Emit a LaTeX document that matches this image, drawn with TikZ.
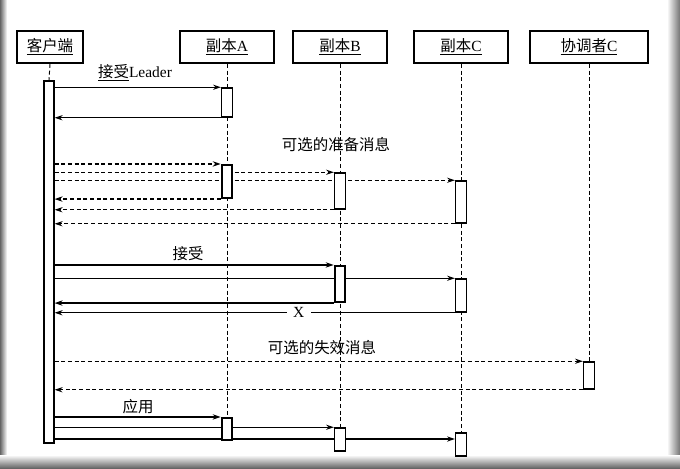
\documentclass[tikz,border=0pt]{standalone}
\usepackage{fontspec}
\setmainfont{Liberation Serif}
\newfontfamily\cjk{Noto Sans CJK SC}
\usetikzlibrary{arrows.meta,backgrounds}
\tikzset{
	head/.style={draw, line width=0.5mm, minimum height=24pt, inner sep=0pt},
	actbox/.style={draw, line width=0.4mm, fill=white, minimum width=8pt, inner sep=0pt},
	lifeline/.style={line width=0.25mm, dash pattern=on 3pt off 2pt},
	msg/.style={line width=0.3mm, -{Stealth[length=6pt, width=4pt]}},
	optmsg/.style={msg, dash pattern=on 3pt off 2pt},
}
\def\actbar[#1](#2)(#3:#4:#5){\node[actbox,#1,minimum height={(#5-#4)*0.75pt}] (#2) at (#3,{(#4+#5)/2}) {};}

\begin{document}
\begin{tikzpicture}[x=0.75pt, y=-0.75pt, font=\fontsize{11.6}{14}\selectfont]
			%%%%% START %%%%%
			\useasboundingbox (0,0) rectangle (680,468);
			
			\node[head, minimum width=49.5pt] (cl) at (50,47) {\underline{\cjk 客户端}};
			\node[head, minimum width=70.5pt] (ra) at (227,47) {\underline{{\cjk 副本}A}};
			\node[head, minimum width=70.5pt] (rb) at (340,47) {\underline{{\cjk 副本}B}};
			\node[head, minimum width=70.5pt] (rc) at (461,47) {\underline{{\cjk 副本}C}};
			\node[head, minimum width=88.5pt] (co) at (589,47) {\underline{{\cjk 协调者}C}};
			
			\actbar[line width=0.5mm, minimum width=7pt](c0)(49:81:443)
			\actbar[](a1)(227:88:117)
			\actbar[line width=0.55mm](a2)(227:165:198)
			\actbar[](b1)(340:173:209)
			\actbar[](c1)(461:181:223)
			\actbar[line width=0.55mm](b2)(340:266:302)
			\actbar[](c2)(461:279:312)
			\actbar[](k1)(589:362:389)
			\actbar[line width=0.55mm](a3)(227:418:440)
			\actbar[](b3)(340:428:451)
			\actbar[](c3)(461:433:456)
			\coordinate (m17) at (0,439);
			
			\node (lblLeader) at (135,73) {\underline{\cjk 接受}Leader};
			\node (lblPrep) at (336,145) {\cjk 可选的准备消息};
			\node (lblAccept) at (188,254) {\cjk 接受};
			\node (lblFail) at (322,348) {\cjk 可选的失效消息};
			\node (lblApply) at (138,407) {\cjk 应用};
			
			\begin{scope}[on background layer]
			\fill[white] (0,0) rectangle (680,468);
			\shade[left color=black!60, right color=white] (0,0) rectangle (7,468);
			\shade[left color=white, right color=black!55] (667,0) rectangle (680,468);
			\shade[top color=white, bottom color=black!60] (0,455) rectangle (680,468);
			
			% lifelines
			\draw[lifeline] (cl.south) -- (c0.north);
			\draw[lifeline] (ra.south) -- (a3.north);
			\draw[lifeline] (rb.south) -- (b3.north);
			\draw[lifeline] (rc.south) -- (c3.north);
			\draw[lifeline] (co.south) -- (k1.north);
			
			% accept leader
			\draw[msg] (c0.east |- a1.north) -- (a1.north west);
			\draw[msg] (a1.south west) -- (c0.east |- a1.south);
			
			% prepare
			\draw[optmsg] (c0.east |- a2.north) -- (a2.north west);
			\draw[optmsg] (c0.east |- b1.north) -- (b1.north west);
			\draw[optmsg] (c0.east |- c1.north) -- (c1.north west);
			\draw[optmsg] (a2.south west) -- (c0.east |- a2.south);
			\draw[optmsg] (b1.south west) -- (c0.east |- b1.south);
			\draw[optmsg] (c1.south west) -- (c0.east |- c1.south);
			
			% accept
			\draw[msg] (c0.east |- b2.north) -- (b2.north west);
			\draw[msg] (c0.east |- c2.north) -- (c2.north west);
			\draw[msg] (b2.south west) -- (c0.east |- b2.south);
			\draw[msg] (c2.south west) -- node[pos=0.39, fill=white, inner xsep=5pt, inner ysep=1pt] (lblX) {X} (c0.east |- c2.south);
			
			% failure
			\draw[optmsg] (c0.east |- k1.north) -- (k1.north west);
			\draw[optmsg] (k1.south west) -- (c0.east |- k1.south);
			
			% apply
			\draw[msg] (c0.east |- a3.north) -- (a3.north west);
			\draw[msg] (c0.east |- b3.north) -- (b3.north west);
			\draw[msg] (c0.east |- m17) -- (c3.west |- m17);
			\end{scope}
			%%%%% END %%%%%
\end{tikzpicture}
\end{document}
